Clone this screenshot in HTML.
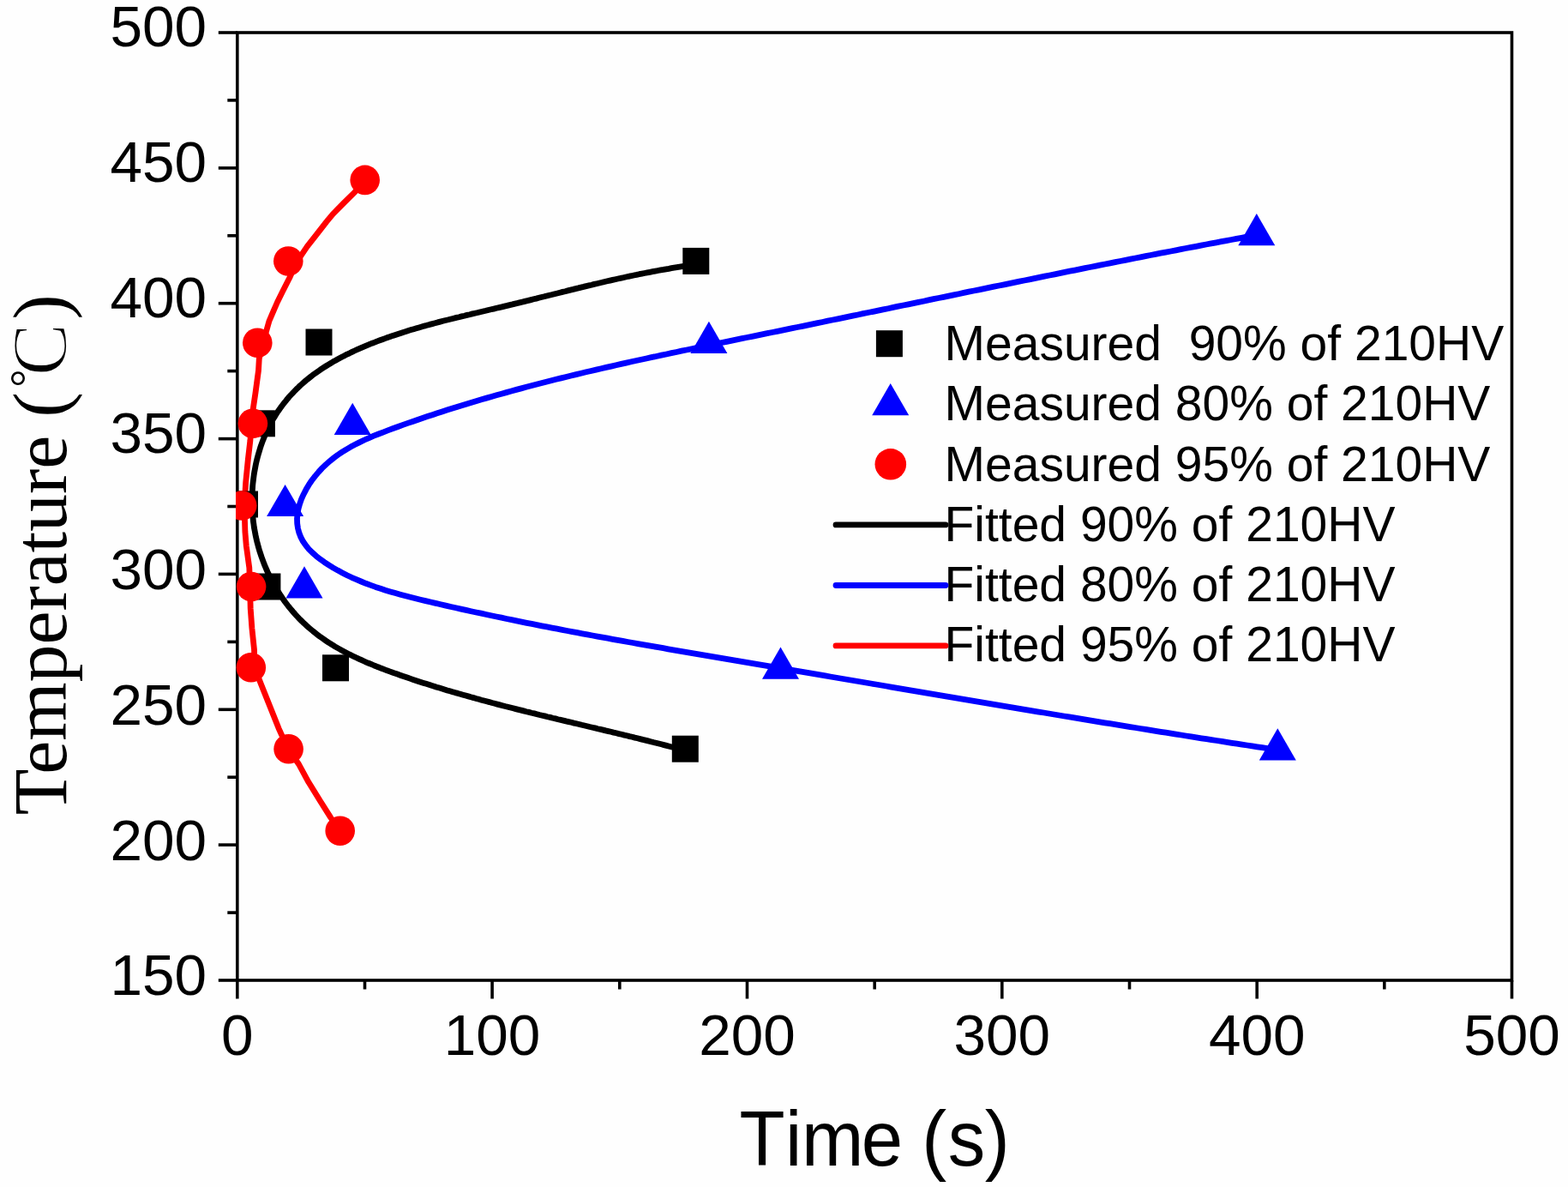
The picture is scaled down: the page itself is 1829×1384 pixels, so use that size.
<!DOCTYPE html><html><head><meta charset="utf-8"><title>TTT curves</title><style>html,body{margin:0;padding:0;background:#fff;}svg{display:block}</style></head><body>
<svg width="1829" height="1384" viewBox="0 0 1829 1384">
<rect width="1829" height="1384" fill="#fefefe"/>
<defs><clipPath id="pc"><rect x="275.0" y="36.2" width="1490.3" height="1108.6"/></clipPath></defs>
<g stroke="#000" stroke-width="3.6" fill="none" stroke-linecap="butt">
<rect x="276.8" y="38.0" width="1486.7" height="1105.0"/>
<line x1="254.8" y1="1143.0" x2="276.8" y2="1143.0"/>
<line x1="265.3" y1="1064.1" x2="276.8" y2="1064.1"/>
<line x1="254.8" y1="985.1" x2="276.8" y2="985.1"/>
<line x1="265.3" y1="906.2" x2="276.8" y2="906.2"/>
<line x1="254.8" y1="827.3" x2="276.8" y2="827.3"/>
<line x1="265.3" y1="748.4" x2="276.8" y2="748.4"/>
<line x1="254.8" y1="669.4" x2="276.8" y2="669.4"/>
<line x1="265.3" y1="590.5" x2="276.8" y2="590.5"/>
<line x1="254.8" y1="511.6" x2="276.8" y2="511.6"/>
<line x1="265.3" y1="432.6" x2="276.8" y2="432.6"/>
<line x1="254.8" y1="353.7" x2="276.8" y2="353.7"/>
<line x1="265.3" y1="274.8" x2="276.8" y2="274.8"/>
<line x1="254.8" y1="195.9" x2="276.8" y2="195.9"/>
<line x1="265.3" y1="116.9" x2="276.8" y2="116.9"/>
<line x1="254.8" y1="38.0" x2="276.8" y2="38.0"/>
<line x1="276.8" y1="1143.0" x2="276.8" y2="1164.5"/>
<line x1="425.5" y1="1143.0" x2="425.5" y2="1153.5"/>
<line x1="574.1" y1="1143.0" x2="574.1" y2="1164.5"/>
<line x1="722.8" y1="1143.0" x2="722.8" y2="1153.5"/>
<line x1="871.5" y1="1143.0" x2="871.5" y2="1164.5"/>
<line x1="1020.2" y1="1143.0" x2="1020.2" y2="1153.5"/>
<line x1="1168.8" y1="1143.0" x2="1168.8" y2="1164.5"/>
<line x1="1317.5" y1="1143.0" x2="1317.5" y2="1153.5"/>
<line x1="1466.2" y1="1143.0" x2="1466.2" y2="1164.5"/>
<line x1="1614.8" y1="1143.0" x2="1614.8" y2="1153.5"/>
<line x1="1763.5" y1="1143.0" x2="1763.5" y2="1164.5"/>
</g>
<g clip-path="url(#pc)" fill="none" stroke-width="6.8" stroke-linejoin="round" stroke-linecap="round">
<path d="M812.0 308.4 L808.7 308.8 L805.5 309.3 L802.3 309.7 L799.1 310.2 L795.9 310.7 L792.8 311.2 L789.6 311.7 L786.4 312.2 L783.2 312.7 L780.1 313.3 L776.9 313.8 L773.8 314.4 L770.6 314.9 L767.5 315.5 L764.3 316.1 L761.2 316.7 L758.1 317.3 L754.9 317.9 L751.8 318.5 L748.7 319.1 L745.6 319.7 L742.5 320.4 L739.3 321.0 L736.2 321.7 L733.1 322.3 L730.0 323.0 L726.9 323.7 L723.8 324.4 L720.8 325.0 L717.7 325.7 L714.6 326.4 L711.5 327.1 L708.4 327.8 L705.3 328.5 L702.2 329.3 L699.2 330.0 L696.1 330.7 L693.0 331.4 L689.9 332.2 L686.9 332.9 L683.8 333.6 L680.7 334.4 L677.7 335.1 L674.6 335.9 L671.5 336.6 L668.5 337.4 L665.4 338.1 L662.3 338.9 L659.2 339.7 L656.2 340.4 L653.1 341.2 L650.0 342.0 L647.0 342.7 L643.9 343.5 L640.8 344.2 L637.8 345.0 L634.7 345.8 L631.6 346.5 L628.5 347.3 L625.5 348.1 L622.4 348.8 L619.3 349.6 L616.2 350.4 L613.1 351.1 L610.1 351.9 L607.0 352.6 L603.9 353.4 L600.8 354.1 L597.7 354.9 L594.6 355.6 L591.5 356.4 L588.4 357.1 L585.3 357.9 L582.2 358.6 L579.1 359.3 L575.9 360.1 L572.8 360.8 L569.7 361.5 L566.6 362.3 L563.5 363.0 L560.3 363.7 L557.2 364.5 L554.1 365.2 L551.0 365.9 L547.9 366.7 L544.7 367.4 L541.6 368.2 L538.5 368.9 L535.4 369.7 L532.2 370.4 L529.1 371.2 L526.0 372.0 L522.9 372.8 L519.8 373.5 L516.6 374.3 L513.5 375.1 L510.4 375.9 L507.3 376.8 L504.2 377.6 L501.1 378.4 L498.0 379.3 L494.9 380.1 L491.8 381.0 L488.7 381.9 L485.7 382.8 L482.6 383.7 L479.5 384.6 L476.4 385.5 L473.4 386.5 L470.3 387.4 L467.3 388.4 L464.2 389.4 L461.2 390.4 L458.1 391.4 L455.1 392.5 L452.1 393.5 L449.1 394.6 L446.1 395.7 L443.1 396.8 L440.1 397.9 L437.1 399.1 L434.1 400.2 L431.1 401.4 L428.2 402.6 L425.2 403.9 L422.3 405.1 L419.4 406.4 L416.4 407.7 L413.5 409.0 L410.6 410.4 L407.8 411.8 L404.9 413.1 L402.1 414.6 L399.2 416.0 L396.4 417.5 L393.6 419.0 L390.9 420.6 L388.1 422.1 L385.4 423.7 L382.7 425.3 L380.0 427.0 L377.4 428.7 L374.7 430.4 L372.1 432.2 L369.6 434.0 L367.0 435.8 L364.5 437.6 L362.1 439.5 L359.6 441.5 L357.2 443.4 L354.9 445.4 L352.5 447.5 L350.2 449.5 L348.0 451.7 L345.7 453.8 L343.6 456.0 L341.4 458.3 L339.3 460.5 L337.2 462.8 L335.2 465.2 L333.3 467.6 L331.3 470.0 L329.4 472.5 L327.6 474.9 L325.8 477.5 L324.0 480.0 L322.3 482.6 L320.7 485.3 L319.0 487.9 L317.5 490.6 L315.9 493.4 L314.5 496.1 L313.1 498.9 L311.7 501.8 L310.4 504.6 L309.1 507.5 L307.9 510.4 L306.7 513.4 L305.6 516.4 L304.5 519.4 L303.5 522.4 L302.6 525.4 L301.7 528.5 L300.8 531.6 L300.0 534.7 L299.2 537.8 L298.5 540.9 L297.9 544.1 L297.3 547.3 L296.7 550.5 L296.2 553.6 L295.8 556.9 L295.4 560.1 L295.0 563.3 L294.7 566.5 L294.5 569.8 L294.3 573.0 L294.1 576.2 L294.0 579.5 L294.0 582.7 L294.0 586.0 L294.1 589.2 L294.2 592.5 L294.4 595.7 L294.6 599.0 L294.9 602.2 L295.2 605.4 L295.5 608.6 L296.0 611.8 L296.4 615.0 L297.0 618.2 L297.6 621.4 L298.2 624.5 L298.9 627.7 L299.6 630.8 L300.4 633.9 L301.2 637.0 L302.1 640.1 L303.0 643.2 L304.0 646.2 L305.0 649.2 L306.1 652.2 L307.2 655.2 L308.3 658.2 L309.6 661.1 L310.8 664.0 L312.1 666.9 L313.5 669.8 L314.8 672.7 L316.3 675.5 L317.7 678.3 L319.3 681.1 L320.8 683.8 L322.4 686.5 L324.1 689.2 L325.8 691.9 L327.5 694.5 L329.3 697.1 L331.1 699.7 L332.9 702.2 L334.8 704.7 L336.7 707.2 L338.7 709.6 L340.7 712.0 L342.7 714.4 L344.8 716.7 L346.9 719.0 L349.1 721.3 L351.3 723.5 L353.5 725.7 L355.8 727.8 L358.1 729.9 L360.4 732.0 L362.8 734.0 L365.2 736.0 L367.6 737.9 L370.0 739.8 L372.5 741.7 L375.1 743.5 L377.6 745.3 L380.2 747.1 L382.8 748.8 L385.4 750.5 L388.1 752.1 L390.8 753.8 L393.5 755.4 L396.2 756.9 L399.0 758.4 L401.8 759.9 L404.6 761.4 L407.4 762.9 L410.2 764.3 L413.1 765.7 L416.0 767.0 L418.9 768.4 L421.8 769.7 L424.7 771.0 L427.6 772.3 L430.6 773.5 L433.5 774.7 L436.5 776.0 L439.5 777.2 L442.5 778.3 L445.5 779.5 L448.5 780.6 L451.5 781.8 L454.5 782.9 L457.6 784.0 L460.6 785.1 L463.6 786.1 L466.7 787.2 L469.7 788.3 L472.8 789.3 L475.8 790.3 L478.9 791.4 L481.9 792.4 L485.0 793.4 L488.0 794.4 L491.1 795.4 L494.2 796.4 L497.2 797.3 L500.3 798.3 L503.3 799.3 L506.4 800.2 L509.4 801.2 L512.5 802.1 L515.6 803.0 L518.6 803.9 L521.7 804.9 L524.8 805.8 L527.8 806.7 L530.9 807.6 L534.0 808.4 L537.0 809.3 L540.1 810.2 L543.2 811.1 L546.2 811.9 L549.3 812.8 L552.4 813.6 L555.4 814.5 L558.5 815.3 L561.6 816.2 L564.7 817.0 L567.7 817.8 L570.8 818.6 L573.9 819.5 L577.0 820.3 L580.0 821.1 L583.1 821.9 L586.2 822.7 L589.3 823.5 L592.3 824.2 L595.4 825.0 L598.5 825.8 L601.6 826.6 L604.7 827.4 L607.8 828.1 L610.8 828.9 L613.9 829.7 L617.0 830.4 L620.1 831.2 L623.2 831.9 L626.3 832.7 L629.3 833.5 L632.4 834.2 L635.5 834.9 L638.6 835.7 L641.7 836.4 L644.8 837.2 L647.9 837.9 L650.9 838.7 L654.0 839.4 L657.1 840.1 L660.2 840.9 L663.3 841.6 L666.4 842.3 L669.5 843.1 L672.6 843.8 L675.6 844.5 L678.7 845.3 L681.8 846.0 L684.9 846.7 L688.0 847.5 L691.1 848.2 L694.2 848.9 L697.3 849.7 L700.4 850.4 L703.5 851.1 L706.5 851.9 L709.6 852.6 L712.7 853.3 L715.8 854.1 L718.9 854.8 L722.0 855.6 L725.1 856.3 L728.2 857.1 L731.3 857.8 L734.4 858.6 L737.5 859.3 L740.5 860.1 L743.6 860.8 L746.7 861.6 L749.8 862.4 L752.9 863.1 L756.0 863.9 L759.1 864.7 L762.2 865.5 L765.3 866.2 L768.4 867.0 L771.5 867.8 L774.5 868.6 L777.6 869.4 L780.7 870.2 L783.8 871.0 L786.9 871.8 L790.0 872.6 L793.1 873.5 L796.2 874.3 L799.3 875.1" stroke="#000"/>
<path d="M1465.9 274.0 L1460.0 275.1 L1454.1 276.2 L1448.2 277.3 L1442.3 278.4 L1436.4 279.5 L1430.5 280.6 L1424.6 281.7 L1418.7 282.8 L1412.8 283.9 L1406.9 285.0 L1401.0 286.2 L1395.1 287.3 L1389.2 288.4 L1383.3 289.5 L1377.4 290.7 L1371.5 291.8 L1365.6 293.0 L1359.7 294.1 L1353.8 295.2 L1347.9 296.4 L1342.1 297.5 L1336.2 298.7 L1330.3 299.8 L1324.4 301.0 L1318.5 302.2 L1312.6 303.3 L1306.7 304.5 L1300.8 305.7 L1294.9 306.8 L1289.0 308.0 L1283.1 309.2 L1277.3 310.3 L1271.4 311.5 L1265.5 312.7 L1259.6 313.9 L1253.7 315.1 L1247.8 316.2 L1241.9 317.4 L1236.0 318.6 L1230.2 319.8 L1224.3 321.0 L1218.4 322.2 L1212.5 323.4 L1206.6 324.6 L1200.7 325.8 L1194.8 327.0 L1189.0 328.2 L1183.1 329.4 L1177.2 330.6 L1171.3 331.8 L1165.4 333.0 L1159.5 334.2 L1153.6 335.4 L1147.8 336.6 L1141.9 337.8 L1136.0 339.0 L1130.1 340.2 L1124.2 341.4 L1118.3 342.7 L1112.5 343.9 L1106.6 345.1 L1100.7 346.3 L1094.8 347.5 L1088.9 348.7 L1083.1 349.9 L1077.2 351.2 L1071.3 352.4 L1065.4 353.6 L1059.5 354.8 L1053.6 356.0 L1047.8 357.2 L1041.9 358.4 L1036.0 359.7 L1030.1 360.9 L1024.2 362.1 L1018.4 363.3 L1012.5 364.5 L1006.6 365.7 L1000.7 367.0 L994.8 368.2 L988.9 369.4 L983.1 370.6 L977.2 371.8 L971.3 373.0 L965.4 374.2 L959.5 375.5 L953.7 376.7 L947.8 377.9 L941.9 379.1 L936.0 380.3 L930.1 381.5 L924.3 382.7 L918.4 383.9 L912.5 385.1 L906.6 386.3 L900.7 387.5 L894.9 388.7 L889.0 389.9 L883.1 391.1 L877.2 392.3 L871.3 393.5 L865.4 394.7 L859.6 395.9 L853.7 397.1 L847.8 398.3 L841.9 399.5 L836.1 400.7 L830.2 401.9 L824.3 403.1 L818.4 404.4 L812.5 405.6 L806.7 406.8 L800.8 408.0 L794.9 409.2 L789.1 410.5 L783.2 411.7 L777.3 413.0 L771.5 414.2 L765.6 415.5 L759.7 416.7 L753.9 418.0 L748.0 419.3 L742.1 420.5 L736.3 421.8 L730.4 423.1 L724.6 424.4 L718.7 425.8 L712.9 427.1 L707.0 428.4 L701.2 429.8 L695.3 431.1 L689.5 432.5 L683.7 433.8 L677.8 435.2 L672.0 436.6 L666.2 438.0 L660.3 439.5 L654.5 440.9 L648.7 442.3 L642.9 443.8 L637.1 445.3 L631.2 446.8 L625.4 448.3 L619.6 449.8 L613.8 451.3 L608.0 452.9 L602.2 454.4 L596.4 456.0 L590.6 457.6 L584.9 459.2 L579.1 460.8 L573.3 462.5 L567.5 464.1 L561.7 465.8 L556.0 467.5 L550.2 469.2 L544.5 471.0 L538.7 472.7 L533.0 474.5 L527.2 476.3 L521.5 478.1 L515.7 480.0 L510.0 481.8 L504.3 483.7 L498.5 485.6 L492.8 487.5 L487.1 489.5 L481.4 491.4 L475.7 493.4 L470.0 495.4 L464.3 497.5 L458.6 499.5 L452.9 501.6 L447.3 503.8 L441.6 506.0 L436.0 508.2 L430.5 510.6 L425.0 513.0 L419.6 515.6 L414.3 518.3 L409.0 521.1 L403.9 524.1 L398.9 527.2 L393.9 530.5 L389.2 534.0 L384.5 537.8 L380.1 541.7 L375.7 545.9 L371.6 550.4 L367.6 555.1 L363.8 560.0 L360.3 565.2 L357.1 570.6 L354.2 576.2 L351.6 581.9 L349.6 587.6 L348.0 593.4 L347.0 599.2 L346.5 604.9 L346.7 610.5 L347.5 616.0 L348.9 621.3 L350.9 626.4 L353.5 631.3 L356.7 635.9 L360.3 640.3 L364.4 644.4 L368.8 648.3 L373.6 652.1 L378.5 655.6 L383.6 658.9 L388.8 662.1 L394.1 665.1 L399.4 667.9 L404.8 670.7 L410.2 673.3 L415.7 675.7 L421.2 678.0 L426.8 680.3 L432.5 682.4 L438.1 684.4 L443.9 686.3 L449.6 688.2 L455.4 689.9 L461.2 691.6 L467.0 693.2 L472.9 694.8 L478.7 696.3 L484.6 697.8 L490.5 699.2 L496.4 700.6 L502.3 702.0 L508.2 703.4 L514.1 704.8 L520.0 706.1 L525.9 707.5 L531.8 708.8 L537.7 710.1 L543.6 711.4 L549.5 712.7 L555.4 714.0 L561.3 715.2 L567.2 716.5 L573.1 717.8 L579.0 719.0 L584.9 720.2 L590.8 721.5 L596.7 722.7 L602.6 723.9 L608.5 725.1 L614.4 726.3 L620.3 727.4 L626.2 728.6 L632.1 729.8 L638.0 730.9 L643.9 732.1 L649.8 733.2 L655.7 734.3 L661.6 735.5 L667.5 736.6 L673.4 737.7 L679.3 738.8 L685.2 739.9 L691.1 741.0 L696.9 742.1 L702.8 743.2 L708.7 744.2 L714.6 745.3 L720.5 746.4 L726.4 747.4 L732.3 748.5 L738.2 749.5 L744.1 750.6 L750.0 751.6 L755.9 752.7 L761.8 753.7 L767.7 754.7 L773.6 755.7 L779.5 756.8 L785.4 757.8 L791.3 758.8 L797.2 759.8 L803.1 760.8 L809.0 761.8 L814.9 762.9 L820.8 763.9 L826.7 764.9 L832.6 765.9 L838.5 766.9 L844.4 767.9 L850.3 768.9 L856.2 769.9 L862.1 770.9 L868.0 771.9 L873.9 772.9 L879.8 773.9 L885.7 774.9 L891.7 775.9 L897.6 776.9 L903.5 777.9 L909.4 778.9 L915.3 779.9 L921.2 780.9 L927.1 781.9 L933.0 782.9 L939.0 783.9 L944.9 784.9 L950.8 785.9 L956.7 786.9 L962.6 787.9 L968.6 789.0 L974.5 790.0 L980.4 791.0 L986.3 792.0 L992.2 793.0 L998.2 794.0 L1004.1 795.0 L1010.0 796.0 L1015.9 797.0 L1021.9 798.0 L1027.8 799.0 L1033.7 800.0 L1039.6 801.1 L1045.6 802.1 L1051.5 803.1 L1057.4 804.1 L1063.3 805.1 L1069.3 806.1 L1075.2 807.1 L1081.1 808.1 L1087.1 809.1 L1093.0 810.1 L1098.9 811.1 L1104.8 812.1 L1110.8 813.1 L1116.7 814.1 L1122.6 815.1 L1128.6 816.1 L1134.5 817.1 L1140.4 818.1 L1146.4 819.1 L1152.3 820.1 L1158.2 821.1 L1164.2 822.1 L1170.1 823.1 L1176.0 824.1 L1182.0 825.1 L1187.9 826.1 L1193.8 827.1 L1199.8 828.1 L1205.7 829.1 L1211.6 830.1 L1217.6 831.0 L1223.5 832.0 L1229.4 833.0 L1235.4 834.0 L1241.3 835.0 L1247.2 835.9 L1253.2 836.9 L1259.1 837.9 L1265.0 838.9 L1271.0 839.8 L1276.9 840.8 L1282.8 841.8 L1288.8 842.8 L1294.7 843.7 L1300.6 844.7 L1306.5 845.6 L1312.5 846.6 L1318.4 847.6 L1324.3 848.5 L1330.3 849.5 L1336.2 850.4 L1342.1 851.4 L1348.0 852.3 L1354.0 853.3 L1359.9 854.2 L1365.8 855.2 L1371.8 856.1 L1377.7 857.0 L1383.6 858.0 L1389.5 858.9 L1395.5 859.8 L1401.4 860.8 L1407.3 861.7 L1413.2 862.6 L1419.2 863.5 L1425.1 864.4 L1431.0 865.3 L1436.9 866.3 L1442.8 867.2 L1448.8 868.1 L1454.7 869.0 L1460.6 869.9 L1466.5 870.8 L1472.4 871.7 L1478.3 872.6 L1484.3 873.5 L1490.2 874.3" stroke="#0000ff"/>
<path d="M425.7 209.9 L414.0 223.8 L401.2 236.5 L388.5 249.3 L380.6 258.8 L369.5 273.1 L358.3 287.4 L345.5 306.4 L337.7 324.0 L329.7 339.8 L323.4 352.5 L317.8 365.3 L313.8 374.8 L310.7 385.9 L306.5 402.0 L302.3 418.1 L301.5 432.0 L298.0 458.0 L295.4 475.4 L293.6 494.0 L291.9 513.5 L289.3 536.0 L286.7 562.0 L285.0 590.0 L285.9 620.0 L287.3 636.6 L290.8 662.0 L291.6 685.0 L292.2 709.4 L293.9 732.5 L296.5 757.3 L297.0 778.6 L304.3 797.3 L314.7 823.3 L325.1 849.3 L336.0 873.1 L348.5 891.0 L359.8 911.8 L373.7 934.3 L385.8 953.4 L396.5 968.5" stroke="#ff0000"/>
</g>
<g clip-path="url(#pc)">
<rect x="796.3" y="288.9" width="31.0" height="31.0" fill="#000"/>
<rect x="356.5" y="383.5" width="31.0" height="31.0" fill="#000"/>
<rect x="289.9" y="478.3" width="31.0" height="31.0" fill="#000"/>
<rect x="270.0" y="572.5" width="31.0" height="31.0" fill="#000"/>
<rect x="296.4" y="668.5" width="31.0" height="31.0" fill="#000"/>
<rect x="376.0" y="763.3" width="31.0" height="31.0" fill="#000"/>
<rect x="783.8" y="857.7" width="31.0" height="31.0" fill="#000"/>
<polygon points="1465.8,249.1 1487.3,286.3 1444.3,286.3" fill="#0000ff"/>
<polygon points="826.9,374.8 848.4,412.0 805.4,412.0" fill="#0000ff"/>
<polygon points="411.2,469.8 432.7,507.0 389.7,507.0" fill="#0000ff"/>
<polygon points="332.6,564.9 354.1,602.1 311.1,602.1" fill="#0000ff"/>
<polygon points="355.0,660.3 376.5,697.5 333.5,697.5" fill="#0000ff"/>
<polygon points="910.5,754.5 932.0,791.7 889.0,791.7" fill="#0000ff"/>
<polygon points="1490.3,849.2 1511.8,886.4 1468.8,886.4" fill="#0000ff"/>
<circle cx="425.7" cy="209.9" r="17.3" fill="#ff0000"/>
<circle cx="336.3" cy="304.5" r="17.3" fill="#ff0000"/>
<circle cx="300.3" cy="399.8" r="17.3" fill="#ff0000"/>
<circle cx="294.9" cy="493.8" r="17.3" fill="#ff0000"/>
<circle cx="282.2" cy="589.5" r="17.3" fill="#ff0000"/>
<circle cx="293.1" cy="684.0" r="17.3" fill="#ff0000"/>
<circle cx="292.8" cy="778.3" r="17.3" fill="#ff0000"/>
<circle cx="336.6" cy="873.3" r="17.3" fill="#ff0000"/>
<circle cx="396.7" cy="968.7" r="17.3" fill="#ff0000"/>
</g>
<g font-family="'Liberation Sans', sans-serif" font-size="67.5" fill="#000">
<text x="241" y="1160.0" text-anchor="end">150</text>
<text x="241" y="1003.1" text-anchor="end">200</text>
<text x="241" y="844.8" text-anchor="end">250</text>
<text x="241" y="687.4" text-anchor="end">300</text>
<text x="241" y="527.6" text-anchor="end">350</text>
<text x="241" y="369.7" text-anchor="end">400</text>
<text x="241" y="211.6" text-anchor="end">450</text>
<text x="241" y="54.0" text-anchor="end">500</text>
<text x="276.8" y="1229.8" text-anchor="middle">0</text>
<text x="574.1" y="1229.8" text-anchor="middle">100</text>
<text x="871.5" y="1229.8" text-anchor="middle">200</text>
<text x="1168.8" y="1229.8" text-anchor="middle">300</text>
<text x="1466.2" y="1229.8" text-anchor="middle">400</text>
<text x="1763.5" y="1229.8" text-anchor="middle">500</text>
</g>
<text transform="translate(0,1358.7) scale(1,1.035) translate(0,-1358.7)" x="862.6 916.1 934.9 1004.8 1053.2 1075.3 1105.8 1148.8" y="1358.7" font-family="'Liberation Sans', sans-serif" font-size="87" fill="#000">Time (s)</text>
<text transform="translate(77,948) rotate(-90)" font-family="'Liberation Serif', serif" font-size="87.8" fill="#000"><tspan x="-2.2" y="0">Temperature </tspan><tspan x="461.6" y="0">(</tspan><tspan x="496.4" y="-29.4" font-size="52">°</tspan><tspan x="509.8" y="0" font-size="92" stroke="#fefefe" stroke-width="1.8">C</tspan><tspan x="575.6" y="0">)</tspan></text>
<g font-family="'Liberation Sans', sans-serif" font-size="57" fill="#000">
<text x="1101.5" y="419.5" xml:space="preserve">Measured&#160; 90% of 210HV</text>
<text x="1101.5" y="490.0" xml:space="preserve">Measured 80% of 210HV</text>
<text x="1101.5" y="561.2" xml:space="preserve">Measured 95% of 210HV</text>
<text x="1101.5" y="631.0" xml:space="preserve">Fitted 90% of 210HV</text>
<text x="1101.5" y="700.8" xml:space="preserve">Fitted 80% of 210HV</text>
<text x="1101.5" y="770.6" xml:space="preserve">Fitted 95% of 210HV</text>
</g>
<rect x="1021.9" y="385.2" width="31.0" height="31.0" fill="#000"/>
<polygon points="1038.7,447.0 1060.2,484.2 1017.2,484.2" fill="#0000ff"/>
<circle cx="1038.8" cy="541.3" r="18.3" fill="#ff0000"/>
<g stroke-width="6.8" stroke-linecap="round">
<line x1="975" y1="611.9" x2="1103" y2="611.9" stroke="#000"/>
<line x1="975" y1="682.5" x2="1103" y2="682.5" stroke="#0000ff"/>
<line x1="975" y1="752.9" x2="1103" y2="752.9" stroke="#ff0000"/>
</g>
</svg></body></html>
